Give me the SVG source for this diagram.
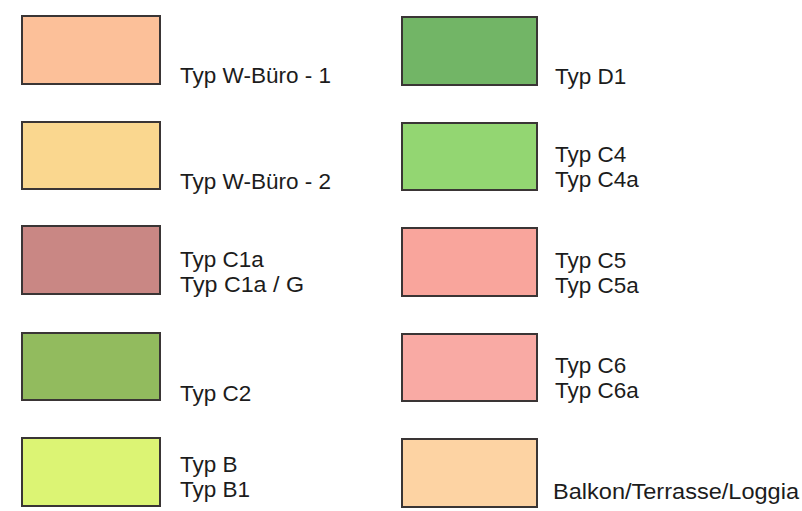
<svg xmlns="http://www.w3.org/2000/svg" width="802" height="511" viewBox="0 0 802 511">
<style>
.sw{stroke:#3a3535;stroke-width:2}
.t{font-family:"Liberation Sans",Arial,sans-serif;font-size:22.5px;fill:#1c1c1c}
</style>
<rect width="802" height="511" fill="#fff"/>
<g id="w-buero-1"><rect class="sw" x="22" y="16" width="138" height="68" fill="#fcc099"/><text class="t" x="180" y="83" textLength="151" lengthAdjust="spacingAndGlyphs">Typ W-Büro - 1</text></g>
<g id="w-buero-2"><rect class="sw" x="22" y="122" width="138" height="67" fill="#fad78f"/><text class="t" x="180" y="189" textLength="151" lengthAdjust="spacingAndGlyphs">Typ W-Büro - 2</text></g>
<g id="c1a"><rect class="sw" x="22" y="226" width="138" height="68" fill="#c98784"/><text class="t" x="180" y="267">Typ C1a</text><text class="t" x="180" y="292" textLength="124" lengthAdjust="spacingAndGlyphs">Typ C1a / G</text></g>
<g id="c2"><rect class="sw" x="22" y="333" width="138" height="67" fill="#92bb5e"/><text class="t" x="180" y="401">Typ C2</text></g>
<g id="b"><rect class="sw" x="22" y="438" width="138" height="68" fill="#dcf474"/><text class="t" x="180" y="472">Typ B</text><text class="t" x="180" y="497">Typ B1</text></g>
<g id="d1"><rect class="sw" x="402" y="17" width="135" height="68" fill="#72b566"/><text class="t" x="555" y="84">Typ D1</text></g>
<g id="c4"><rect class="sw" x="402" y="123" width="135" height="67" fill="#93d672"/><text class="t" x="555" y="162">Typ C4</text><text class="t" x="555" y="187">Typ C4a</text></g>
<g id="c5"><rect class="sw" x="402" y="228" width="135" height="68" fill="#f9a59c"/><text class="t" x="555" y="268">Typ C5</text><text class="t" x="555" y="293">Typ C5a</text></g>
<g id="c6"><rect class="sw" x="402" y="334" width="135" height="67" fill="#f9aaa4"/><text class="t" x="555" y="373">Typ C6</text><text class="t" x="555" y="398">Typ C6a</text></g>
<g id="balkon"><rect class="sw" x="402" y="439" width="135" height="68" fill="#fdd3a3"/><text class="t" x="553" y="499" textLength="246" lengthAdjust="spacingAndGlyphs">Balkon/Terrasse/Loggia</text></g>
</svg>
